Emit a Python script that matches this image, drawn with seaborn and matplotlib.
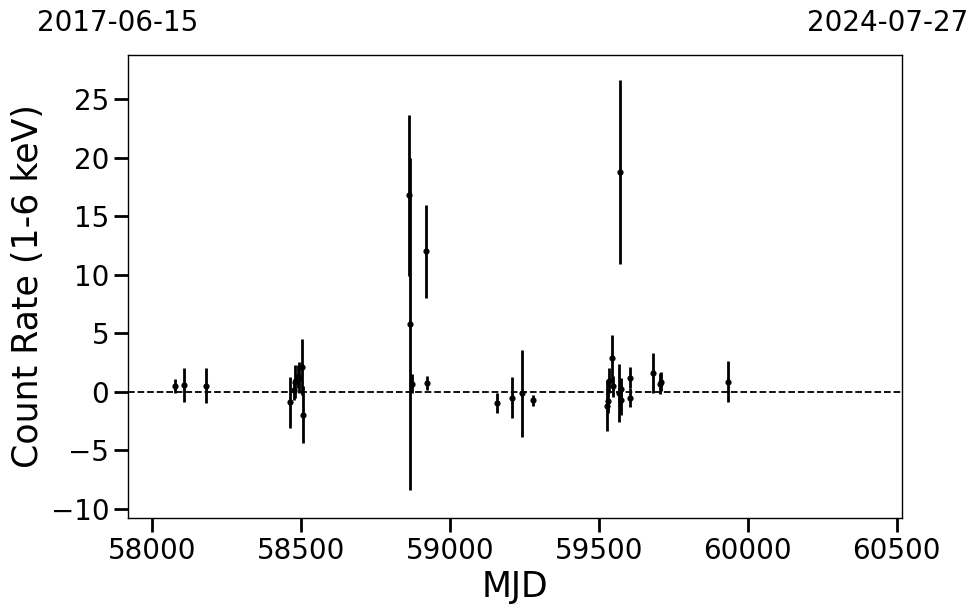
import numpy as np
import pandas as pd
import seaborn as sns
import matplotlib
matplotlib.use("Agg")
import matplotlib.pyplot as plt

# light curve: MJD, count rate (1-6 keV), 1-sigma error
mjd = [58077, 58107, 58181,
       58463, 58476, 58480, 58489, 58493, 58504, 58506,
       58861, 58865, 58871, 58920, 58922,
       59157, 59210, 59242, 59278,
       59529, 59531, 59534, 59543, 59546, 59568, 59572, 59574, 59576, 59604, 59605,
       59681, 59707, 59709, 59934]
rate = [0.5, 0.6, 0.5,
        -0.9, 0.15, 0.85, 1.3, 1.2, 2.15, -1.95,
        16.8, 5.8, 0.7, 12.0, 0.75,
        -0.95, -0.5, -0.15, -0.75,
        -1.2, -0.8, 0.95, 2.85, 0.45, -0.1, 18.8, -0.75, 0.2, 1.2, -0.5,
        1.6, 0.7, 0.85, 0.85]
err = [0.6, 1.45, 1.5,
       2.2, 0.9, 1.4, 1.0, 1.3, 2.4, 2.4,
       6.9, 14.2, 0.8, 4.0, 0.6,
       0.85, 1.75, 3.7, 0.45,
       2.2, 1.0, 1.1, 2.0, 0.9, 2.5, 7.9, 1.2, 1.0, 0.9, 0.8,
       1.7, 0.9, 0.8, 1.75]

xlim = (57919, 60518)
date_labels = ["2017-06-15", "2024-07-27"]
xticks = [58000, 58500, 59000, 59500, 60000, 60500]
yticks = [-10, -5, 0, 5, 10, 15, 20, 25]

df = pd.DataFrame({"MJD": mjd, "rate": rate, "err": err})

sns.set_style("white")
plt.rcParams["font.family"] = ["DejaVu Sans"]
plt.rcParams.update({"text.color": "k", "axes.labelcolor": "k",
                     "xtick.color": "k", "ytick.color": "k",
                     "axes.edgecolor": "k"})

fig, ax = plt.subplots(figsize=(9.8, 6.13), dpi=100)
fig.subplots_adjust(left=0.1306, right=0.9204, top=0.9103, bottom=0.155)

ax.errorbar(df["MJD"], df["rate"], yerr=df["err"], fmt="none",
            ecolor="k", elinewidth=2, capsize=0, zorder=2)
sns.scatterplot(data=df, x="MJD", y="rate", ax=ax, color="k", s=20,
                edgecolor="k", linewidth=0, zorder=3, legend=False)
ax.axhline(0, color="k", ls="--", lw=1.3, zorder=1)

ax.set_xlim(*xlim)
ax.set_ylim(-10.8, 28.8)
ax.set_xticks(xticks)
ax.set_yticks(yticks)
ax.tick_params(axis="both", which="major", length=10, width=2,
               labelsize=20, direction="out", colors="k", bottom=True, left=True)
for sp in ax.spines.values():
    sp.set_color("k")
    sp.set_linewidth(1)

ax.set_xlabel("MJD", fontsize=25, color="k")
ax.set_ylabel("Count Rate (1-6 keV)", fontsize=25, color="k")

# calendar dates for the two ends of the axis
ax.text(-0.013, 1.07, date_labels[0], transform=ax.transAxes,
        ha="center", va="center", fontsize=20, color="k")
ax.text(0.982, 1.07, date_labels[1], transform=ax.transAxes,
        ha="center", va="center", fontsize=20, color="k")

plt.savefig("out.png", dpi=100)
